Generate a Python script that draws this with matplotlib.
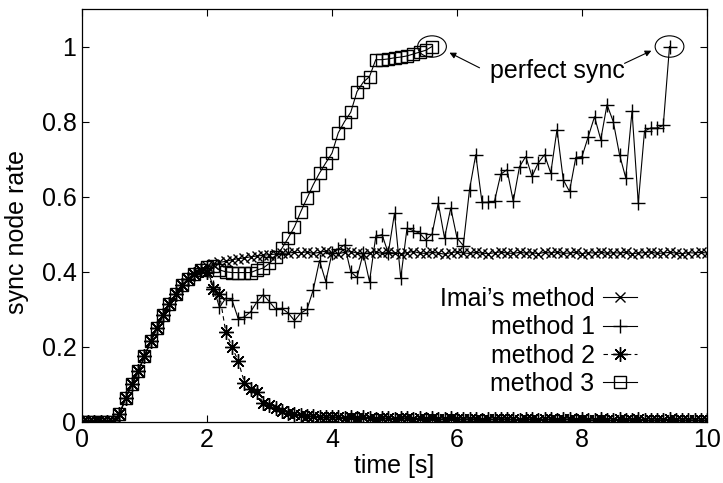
import numpy as np
import matplotlib
matplotlib.use('Agg')
import matplotlib.pyplot as plt
from matplotlib.patches import Ellipse

plt.rcParams['font.family'] = ['Liberation Sans', 'DejaVu Sans']
plt.rcParams['font.size'] = 18

# all four runs share the same start-up phase (t = 0.0 .. 1.9 s, step 0.1 s)
rise = [0, 0, 0, 0, 0, 0, 0.02, 0.065, 0.10, 0.135,
        0.175, 0.215, 0.25, 0.285, 0.315, 0.34, 0.365, 0.38, 0.395, 0.405]

imai = rise + [
    0.415, 0.420, 0.425, 0.428, 0.432, 0.435, 0.437, 0.440, 0.442, 0.444,
    0.446, 0.447, 0.449, 0.450, 0.452, 0.451,
    0.453, 0.449, 0.452, 0.455, 0.450, 0.448, 0.452, 0.454, 0.450, 0.447,
    0.451, 0.453, 0.449, 0.452, 0.450, 0.448, 0.451, 0.454, 0.450, 0.449,
    0.452, 0.450, 0.447, 0.451, 0.453, 0.450, 0.449, 0.452, 0.450, 0.448,
    0.451, 0.453, 0.450, 0.449, 0.452, 0.450, 0.451, 0.448, 0.452, 0.450,
    0.453, 0.449, 0.450, 0.452, 0.448, 0.451, 0.450, 0.453, 0.449, 0.451,
    0.450, 0.452, 0.448, 0.450, 0.451, 0.453, 0.449, 0.450, 0.452, 0.450,
    0.448, 0.451, 0.450, 0.452, 0.450]

method1 = rise + [
    0.41, 0.36, 0.305, 0.33, 0.325, 0.275, 0.28, 0.294, 0.32, 0.339,
    0.32, 0.30, 0.303, 0.29, 0.27, 0.29, 0.30, 0.352, 0.43, 0.374,
    0.45, 0.46, 0.472, 0.40, 0.385, 0.45, 0.374, 0.494, 0.499, 0.45,
    0.556, 0.383, 0.516, 0.51, 0.503, 0.485, 0.50, 0.583, 0.49, 0.57,
    0.49, 0.47, 0.619, 0.712, 0.585, 0.585, 0.588, 0.66, 0.672, 0.588,
    0.68, 0.707, 0.654, 0.69, 0.712, 0.663, 0.779, 0.645, 0.614, 0.704,
    0.707, 0.76, 0.813, 0.752, 0.845, 0.80, 0.712, 0.65, 0.828, 0.583,
    0.775, 0.783, 0.783, 0.79, 1.0]

method2 = rise + [
    0.40, 0.355, 0.34, 0.24, 0.20, 0.162, 0.105, 0.087, 0.08, 0.05,
    0.045, 0.036, 0.028, 0.023, 0.02, 0.018, 0.016, 0.015, 0.014, 0.013,
    0.012, 0.013, 0.011, 0.012, 0.010, 0.012, 0.011, 0.009, 0.011, 0.010,
    0.009, 0.011, 0.010, 0.008, 0.010, 0.009, 0.011, 0.008, 0.009, 0.010,
    0.008, 0.007, 0.009, 0.008, 0.006, 0.008, 0.007, 0.009, 0.007, 0.008,
    0.006, 0.008, 0.007, 0.006, 0.008, 0.007, 0.005, 0.007, 0.008, 0.006,
    0.007, 0.005, 0.006, 0.008, 0.006, 0.005, 0.007, 0.006, 0.005, 0.007,
    0.006, 0.004, 0.006, 0.005, 0.007, 0.005, 0.004, 0.006, 0.005, 0.004,
    0.005]

method3 = rise + [
    0.413, 0.416, 0.405, 0.40, 0.398, 0.398, 0.398, 0.398, 0.405, 0.41,
    0.423, 0.44, 0.463, 0.49, 0.52, 0.56, 0.596, 0.632, 0.663, 0.69,
    0.716, 0.77, 0.80, 0.825, 0.88, 0.905, 0.92, 0.965, 0.965, 0.967,
    0.97, 0.972, 0.975, 0.98, 0.985, 0.99, 1.0]

dt = 0.1
series = [
    ('Imai\u2019s method', imai, dict(marker='x', ms=7, ls='-')),
    ('method 1', method1, dict(marker='+', ms=10.5, ls='-')),
    ('method 2', method2, dict(marker=(8, 2, 0), ms=10.5, ls=(0, (4, 3)))),
    ('method 3', method3, dict(marker='s', ms=9, mfc='none', ls='-')),
]

fig = plt.figure(figsize=(7.23, 4.83), dpi=100)
ax = fig.add_axes([0.1134, 0.1263, 0.8645, 0.8551])

for label, vals, style in series:
    t = dt * np.arange(len(vals))
    ax.plot(t, vals, color='black', lw=0.8, mew=1.0, label=label, **style)

ax.set_xlim(0, 10)
ax.set_ylim(0, 1.1)
ax.set_xticks([0, 2, 4, 6, 8, 10])
ax.set_yticks([0, 0.2, 0.4, 0.6, 0.8, 1.0])
ax.set_yticklabels(['0', '0.2', '0.4', '0.6', '0.8', '1'])
ax.tick_params(direction='in', length=5, width=0.8, top=True, right=True, pad=4)
for sp in ax.spines.values():
    sp.set_linewidth(0.9)

ax.set_xlabel('time [s]')
ax.set_ylabel('sync node rate')
ax.yaxis.set_label_coords(-0.085, 0.46)
ax.xaxis.set_label_coords(0.4995, -0.077)

# circles around the two runs that reach 1.0, with arrows to the note
t3_end = dt * (len(method3) - 1)
t1_end = dt * (len(method1) - 1)
for tc, vc in [(t3_end, method3[-1]), (t1_end, method1[-1])]:
    ax.add_patch(Ellipse((tc, vc), 0.46, 0.057, fill=False, lw=0.8, color='black'))
ax.text(7.61, 0.935, 'perfect sync', ha='center', va='center')
arrow = dict(arrowstyle='-|>', color='black', lw=0.8, mutation_scale=9)
ax.annotate('', xy=(5.84, 0.987), xytext=(6.4, 0.94), arrowprops=arrow)
ax.annotate('', xy=(9.15, 0.992), xytext=(8.64, 0.952), arrowprops=arrow)

ax.legend(loc='center right', bbox_to_anchor=(0.888, 0.195), frameon=False,
          markerfirst=False, borderpad=0, handlelength=1.35, handletextpad=0.35,
          labelspacing=0.17, borderaxespad=0)

fig.savefig('out.png', dpi=100)
